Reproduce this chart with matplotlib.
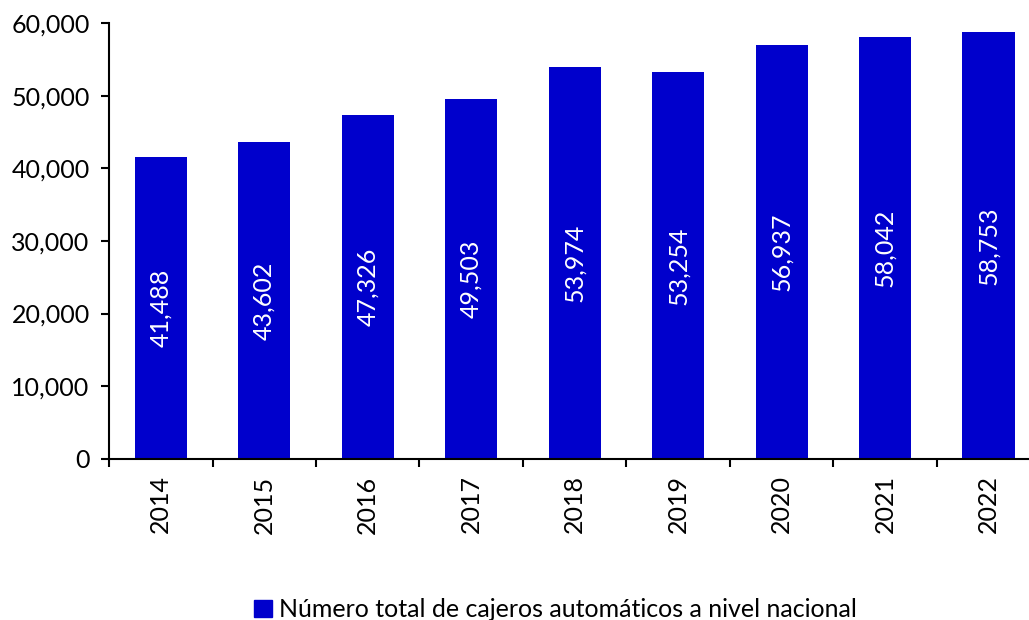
import matplotlib
matplotlib.use("Agg")
from matplotlib import pyplot as plt
from matplotlib.patches import Patch

#-----------------------Data-----------------------#

years = ['2014', '2015', '2016', '2017', '2018', '2019', '2020', '2021', '2022']
cajeros = [41488, 43602, 47326, 49503, 53974, 53254, 56937, 58042, 58753]
label_serie = 'Número total de cajeros automáticos a nivel nacional'

plt.rcParams['font.family'] = ['Lato', 'DejaVu Sans']

#-----------------------Plot-----------------------#

fig = plt.figure(figsize=(10.29, 6.2), dpi=100)
# plot area runs slightly past the right edge of the image, as in the original
ax = fig.add_axes([0.106, 0.26, 0.905, 0.703])

x = list(range(len(years)))
bars = ax.bar(x, cajeros, width=0.505, color='#0000CC')
ax.bar_label(bars, labels=[f'{v:,}' for v in cajeros], label_type='center',
             rotation=90, color='white', fontsize=18)

ax.set_xlim(-0.5, len(years) - 0.5)
ax.set_ylim(0, 60000)
ax.set_yticks(range(0, 60001, 10000))
ax.yaxis.set_major_formatter(matplotlib.ticker.FuncFormatter(lambda v, p: f'{int(v):,}'))

# ticks between categories, labels centred on bars
ax.set_xticks([i - 0.5 for i in range(len(years) + 1)])
ax.set_xticklabels([])
ax.set_xticks(x, minor=True)
ax.set_xticklabels(years, minor=True, rotation=90, fontsize=18)
ax.tick_params(axis='x', which='minor', length=0, pad=12)
ax.tick_params(axis='x', which='major', direction='out', length=6, width=1.5)
ax.tick_params(axis='y', direction='out', length=6, width=1.5, labelsize=18, pad=8)

for s in ['top', 'right']:
    ax.spines[s].set_visible(False)
for s in ['left', 'bottom']:
    ax.spines[s].set_linewidth(1.5)

fig.legend(handles=[Patch(color='#0000CC', label=label_serie)],
           loc='lower center', bbox_to_anchor=(0.54, -0.038), frameon=False,
           fontsize=18, handlelength=0.7, handleheight=0.7, handletextpad=0.3)

fig.savefig('out.png', dpi=100)
